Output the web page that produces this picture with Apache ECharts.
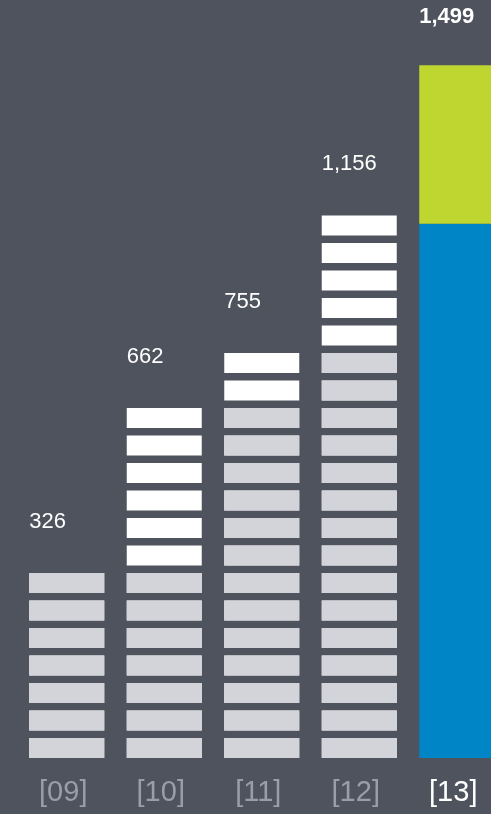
<!DOCTYPE html>
<html>
<head>
<meta charset="utf-8">
<title>Growth 2009–2013</title>
<script src="https://cdn.jsdelivr.net/npm/echarts@6/dist/echarts.min.js"></script>
<style>
  html, body { margin: 0; padding: 0; background: #4f535d; }
  #chart { width: 491px; height: 814px; }
</style>
</head>
<body>
<div id="chart"></div>
<script>
// Year labels along the bottom
const years = ['[09]', '[10]', '[11]', '[12]', '[13]'];
// Totals per year, printed above each column
const totals = [326, 662, 755, 1156, 1499];
// Block tallies for the segmented columns (2009–2012)
const carriedBlocks = [7, 7, 13, 15];   // grey: level carried over from the year before
const totalBlocks = [7, 13, 15, 20];    // white: blocks added on top
// 2013 column: previous year's total plus the new growth
const base2013 = 1156;
const growth2013 = 343;

const FONT = '"Liberation Sans", Arial, sans-serif';
const BLOCK_MAX = 26;           // block axis range; one block = 27.5 px
const VALUE_MAX = 1547;

const chart = echarts.init(document.getElementById('chart'), null, { renderer: 'canvas' });

const fmt = v => Number(v).toLocaleString('en-US');

const blockSeries = (name, data, color, withLabel) => ({
  name,
  type: 'pictorialBar',
  xAxisIndex: 0,
  yAxisIndex: 1,
  barWidth: 75,
  barGap: '-100%',
  symbol: 'rect',
  symbolSize: [75, 20],
  symbolRepeat: true,
  symbolMargin: '3.75!',
  symbolOffset: [0, 3.75],
  itemStyle: { color },
  silent: true,
  label: withLabel ? {
    show: true,
    position: 'top',
    align: 'left',
    offset: [-37.5, -28],
    color: '#ffffff',
    fontFamily: FONT,
    fontSize: 22,
    lineHeight: 22,
    formatter: p => fmt(totals[p.dataIndex])
  } : { show: false },
  data: data.concat(['-'])
});

chart.setOption({
  backgroundColor: '#4f535d',
  animation: false,
  grid: {
    left: 18, width: 487.5, top: 43, bottom: 56,
    containLabel: false,
    outerBoundsMode: 'none'
  },
  xAxis: {
    type: 'category',
    data: years.map((y, i) => i === years.length - 1
      ? { value: y, textStyle: { color: '#ffffff' } }
      : y),
    axisLine: { show: false },
    axisTick: { show: false },
    splitLine: { show: false },
    axisLabel: {
      color: '#9b9ea8',
      fontFamily: FONT,
      fontSize: 29,
      lineHeight: 30,
      margin: 20,
      padding: [0, 7, 0, 0]
    }
  },
  yAxis: [
    { type: 'value', min: 0, max: VALUE_MAX, show: false, splitLine: { show: false } },
    { type: 'value', min: 0, max: BLOCK_MAX, interval: 1, show: false, splitLine: { show: false } }
  ],
  series: [
    blockSeries('added', totalBlocks, '#ffffff', true),
    blockSeries('carried', carriedBlocks, '#d3d4d9', false),
    {
      name: 'base',
      type: 'bar',
      stack: 'y13',
      xAxisIndex: 0,
      yAxisIndex: 0,
      barWidth: 75,
      itemStyle: { color: '#0085c7' },
      silent: true,
      data: ['-', '-', '-', '-', base2013]
    },
    {
      name: 'growth',
      type: 'bar',
      stack: 'y13',
      xAxisIndex: 0,
      yAxisIndex: 0,
      barWidth: 75,
      itemStyle: { color: '#bed62f' },
      silent: true,
      label: {
        show: true,
        position: 'top',
        align: 'left',
        offset: [-37.5, -32],
        color: '#ffffff',
        fontFamily: FONT,
        fontSize: 22,
        fontWeight: 'bold',
        lineHeight: 22,
        formatter: () => fmt(totals[4])
      },
      data: ['-', '-', '-', '-', growth2013]
    }
  ]
});
</script>
</body>
</html>
